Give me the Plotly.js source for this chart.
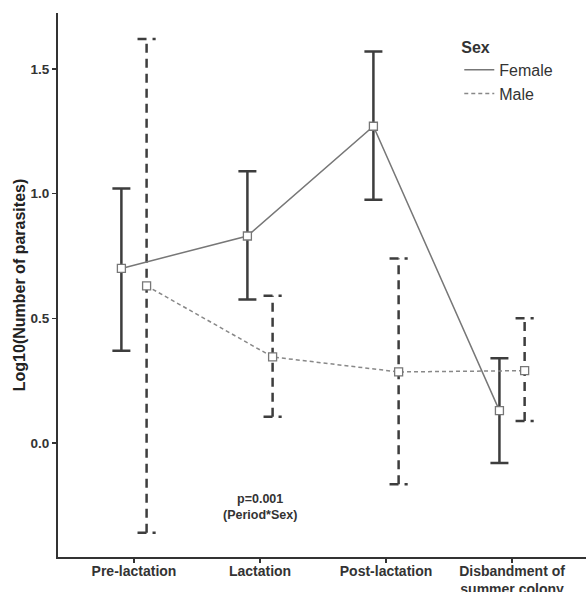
<!DOCTYPE html>
<html>
<head>
<meta charset="utf-8">
<script src="https://cdn.plot.ly/plotly-3.0.1.min.js"></script>
<style>html,body{margin:0;padding:0;background:#fff;}#chart{width:588px;height:592px;}</style>
</head>
<body>
<div id="chart"></div>
<script>
// ---- data ----
const periods = ["Pre-lactation", "Lactation", "Post-lactation", "Disbandment of<br>summer colony"];
const femaleMean  = [0.70, 0.83, 1.27, 0.13];
const femaleUpper = [1.02, 1.09, 1.57, 0.34];
const femaleLower = [0.37, 0.575, 0.975, -0.08];
const maleMean    = [0.63, 0.345, 0.285, 0.29];
const maleUpper   = [1.62, 0.59, 0.74, 0.50];
const maleLower   = [-0.36, 0.105, -0.165, 0.088];
const yTicks = [0, 0.5, 1.0, 1.5];

// ---- positions (dodge) ----
const idx = periods.map((_, i) => i);
const off = 0.1, cap = 0.072;
const fx = idx.map(i => i - off);
const mx = idx.map(i => i + off);

// male dashed error bars built as line segments
const mex = [], mey = [];
mx.forEach((x, i) => {
  mex.push(x, x, null, x - cap, x + cap, null, x - cap, x + cap, null);
  mey.push(maleLower[i], maleUpper[i], null, maleLower[i], maleLower[i], null, maleUpper[i], maleUpper[i], null);
});

const errCol = '#3d3d3d';
const traces = [
  { x: mex, y: mey, mode: 'lines', line: {color: errCol, width: 2.5, dash: '9px,6px'},
    showlegend: false, hoverinfo: 'skip' },
  { x: fx, y: femaleMean, mode: 'markers', showlegend: false,
    marker: {size: 0.1, color: 'rgba(0,0,0,0)'},
    error_y: {type: 'data', symmetric: false,
      array: femaleUpper.map((u, i) => u - femaleMean[i]),
      arrayminus: femaleMean.map((m, i) => m - femaleLower[i]),
      color: errCol, thickness: 2.5, width: 9} },
  { x: fx, y: femaleMean, mode: 'lines', name: 'Female',
    line: {color: '#777', width: 1.5} },
  { x: mx, y: maleMean, mode: 'lines', name: 'Male',
    line: {color: '#888', width: 1.5, dash: '4px,3px'} },
  { x: fx, y: femaleMean, mode: 'markers', showlegend: false,
    marker: {symbol: 'square', size: 8, color: '#fff', line: {color: '#777', width: 1.3}} },
  { x: mx, y: maleMean, mode: 'markers', showlegend: false,
    marker: {symbol: 'square', size: 8, color: '#fff', line: {color: '#777', width: 1.3}} }
];

const font = 'Liberation Sans, Arial, sans-serif';
const layout = {
  width: 588, height: 592,
  margin: {l: 58, r: 2, t: 13, b: 35},
  paper_bgcolor: '#fff', plot_bgcolor: '#fff',
  font: {family: font, color: '#333'},
  xaxis: {
    range: [-0.603, 3.587], tickvals: idx, ticktext: periods,
    showgrid: false, zeroline: false, showline: true, linecolor: '#333', linewidth: 2,
    ticks: 'outside', ticklen: 4, tickwidth: 1.5, tickcolor: '#333',
    ticklabelstandoff: -4,
    tickfont: {size: 14, weight: 'bold', color: '#333'}, fixedrange: true
  },
  yaxis: {
    range: [-0.457, 1.724], tickvals: yTicks, tickformat: '.1f',
    showgrid: false, zeroline: false, showline: true, linecolor: '#333', linewidth: 2,
    ticks: 'outside', ticklen: 4, tickwidth: 1.5, tickcolor: '#333',
    tickfont: {size: 13.5, weight: 'bold', color: '#333'},
    title: {text: 'Log10(Number of parasites)', font: {size: 16, weight: 'bold', color: '#222'}, standoff: 1}
  },
  legend: {
    x: 0.760, y: 0.965, xanchor: 'left', yanchor: 'top',
    bgcolor: 'rgba(0,0,0,0)', font: {size: 16, color: '#333'},
    title: {text: 'Sex', font: {size: 16, weight: 'bold', color: '#333'}},
    itemwidth: 30, tracegroupgap: 0
  },
  annotations: [{
    x: 1, y: -0.255, xref: 'x', yref: 'y', showarrow: false,
    text: 'p=0.001<br>(Period*Sex)', align: 'center',
    font: {size: 12.5, weight: 'bold', color: '#333'}
  }]
};

Plotly.newPlot('chart', traces, layout, {displayModeBar: false, staticPlot: true});
</script>
</body>
</html>
